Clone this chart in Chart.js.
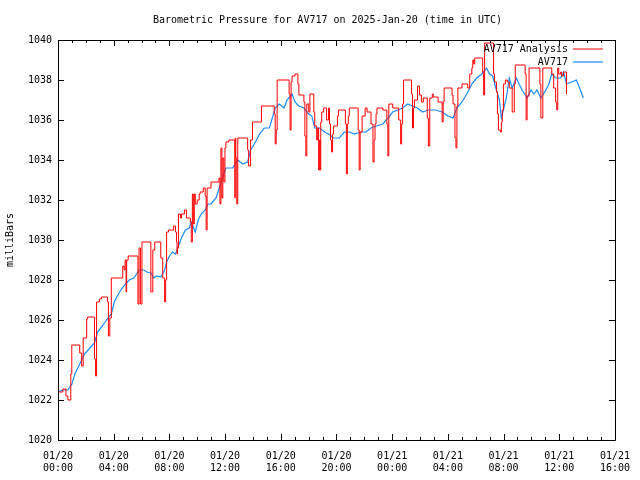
<!DOCTYPE html>
<html>
<head>
<meta charset="utf-8">
<script src="https://cdn.jsdelivr.net/npm/chart.js@4"></script>
<style>
  html, body { margin: 0; padding: 0; background: #fff; }
  canvas { display: block; }
</style>
</head>
<body>
<canvas id="chart" width="640" height="480"></canvas>
<script>
var chartTitle = 'Barometric Pressure for AV717 on 2025-Jan-20 (time in UTC)';

// hours since 2025-01-20 00:00 UTC
var analysisHours = [0, 0.35, 0.57, 0.71, 0.92, 0.99, 1.56, 1.70, 1.81, 2.06, 2.13, 2.62, 2.70, 2.77, 2.98, 3.12,
  3.55, 3.62, 3.72, 3.83, 4.65, 4.75, 4.82, 4.89, 4.93, 5.04, 5.74, 5.82, 5.92, 6.03, 6.67, 6.81, 6.95,
  7.38, 7.52, 7.66, 7.73, 7.80, 7.94, 8.30, 8.44, 8.51, 8.55, 8.58, 8.65, 8.79, 8.87, 9.08, 9.22, 9.50,
  9.57, 9.65, 9.72, 9.79, 9.86, 10.0, 10.14, 10.21, 10.43, 10.57, 10.64, 10.71, 10.99, 11.56, 11.63,
  11.70, 11.77, 11.84, 11.91, 11.99, 12.06, 12.27, 12.70, 12.73, 12.77, 12.84, 12.91, 13.62, 13.69,
  13.83, 13.97, 14.61, 15.53, 15.60, 15.67, 15.74, 16.60, 16.67, 16.74, 16.81, 17.02, 17.23, 17.30,
  17.66, 17.73, 17.80, 17.87, 18.01, 18.09, 18.37, 18.44, 18.58, 18.65, 18.72, 18.79, 18.83, 18.87,
  18.94, 19.08, 19.29, 19.43, 19.50, 19.57, 19.65, 19.72, 19.79, 20.07, 20.14, 20.64, 20.71, 20.78,
  20.85, 20.92, 21.56, 21.63, 21.70, 21.84, 22.06, 22.20, 22.48, 22.62, 22.70, 22.77, 22.84, 22.91,
  23.33, 23.62, 23.69, 23.76, 24.04, 24.47, 24.61, 24.68, 24.75, 24.82, 25.39, 25.46, 25.53, 25.60,
  25.82, 25.96, 26.10, 26.24, 26.52, 26.60, 26.70, 26.88, 26.95, 27.30, 27.59, 27.66, 27.73, 28.30,
  28.37, 28.51, 28.58, 28.65, 28.72, 29.01, 29.43, 29.57, 29.72, 29.79, 29.86, 29.93, 30.50, 30.57,
  30.64, 31.28, 31.35, 31.49, 31.56, 31.63, 31.77, 31.84, 31.91, 31.99, 32.13, 32.27, 32.41, 32.62,
  32.77, 32.84, 33.55, 33.62, 33.69, 33.83, 34.61, 34.68, 34.82, 35.46, 35.60, 35.74, 35.82, 35.89,
  35.96, 36.10, 36.17, 36.31, 36.52];
var analysisMb = [1022.4, 1022.55, 1022.2, 1022.0, 1023.3, 1024.75, 1024.35, 1023.7, 1025.1, 1026.05, 1026.15, 1024.05, 1023.2, 1026.9, 1027.05, 1027.15,
  1026.9, 1025.2, 1026.1, 1028.1, 1028.7, 1028.5, 1029.0, 1027.4, 1029.0, 1029.2, 1026.8, 1029.6, 1026.8, 1029.9, 1027.4, 1029.5, 1029.9,
  1029.1, 1028.1, 1026.9, 1028.0, 1030.4, 1030.5, 1030.7, 1030.4, 1029.9, 1029.3, 1029.6, 1031.3, 1031.1, 1031.3, 1031.5, 1031.1, 1030.9,
  1029.9, 1032.3, 1030.8, 1032.3, 1031.8, 1032.0, 1032.3, 1032.4, 1032.6, 1032.2, 1030.5, 1032.6, 1032.9, 1033.1, 1031.8,
  1034.6, 1032.1, 1034.1, 1032.9, 1034.6, 1034.9, 1035.0, 1032.1, 1035.1, 1034.1, 1031.8, 1035.1, 1034.5, 1033.7,
  1035.0, 1035.9, 1036.7, 1036.3, 1034.8, 1035.5, 1038.0, 1037.3, 1035.5, 1037.9, 1038.2, 1038.3, 1037.8, 1037.25,
  1036.9, 1035.2, 1034.2, 1036.8, 1036.4, 1037.3, 1036.4, 1035.7, 1035.0, 1035.6, 1033.5, 1035.0, 1033.5, 1035.9,
  1036.4, 1036.6, 1036.0, 1036.6, 1035.8, 1035.0, 1034.4, 1035.3, 1035.7, 1036.2, 1036.5, 1035.8, 1033.3, 1035.8,
  1036.2, 1036.6, 1035.5, 1033.5, 1035.4, 1036.2, 1036.6, 1036.4, 1035.8, 1033.9, 1035.0, 1035.8, 1036.3, 1036.6,
  1036.5, 1035.8, 1034.2, 1036.8, 1036.6, 1036.0, 1034.8, 1035.8, 1036.8, 1038.0, 1037.3, 1035.6, 1036.6, 1037.0,
  1037.7, 1037.25, 1036.9, 1037.1, 1036.1, 1034.7, 1037.1, 1037.3, 1037.15, 1036.9, 1035.9, 1036.9, 1037.6, 1037.25,
  1036.8, 1035.1, 1034.6, 1036.7, 1037.6, 1037.8, 1037.6, 1038.3, 1038.6, 1039.0, 1038.8, 1039.1, 1038.4, 1037.25,
  1039.85, 1038.3, 1037.9, 1037.4, 1036.3, 1035.5, 1035.4, 1035.9, 1036.5, 1037.8, 1038.0, 1037.9, 1037.6, 1036.4,
  1037.8, 1038.75, 1038.3, 1036.0, 1037.2, 1038.6, 1037.8, 1036.1, 1038.6, 1038.3, 1037.6, 1036.9, 1036.5, 1038.6,
  1038.3, 1038.4, 1038.2, 1038.4, 1037.3];

var stationHours = [0, 0.35, 0.71, 1.0, 1.21, 1.56, 1.91, 2.41, 2.62, 2.84, 3.19, 3.48, 3.83, 4.04, 4.26, 4.61,
  5.11, 5.46, 5.82, 6.17, 6.38, 6.67, 6.88, 7.09, 7.38, 7.66, 7.8, 8.01, 8.23, 8.44, 8.65, 8.87, 9.15,
  9.43, 9.57, 9.86, 10.07, 10.28, 10.57, 10.78, 10.99, 11.35, 11.63, 11.84, 12.06, 12.55, 12.91, 13.26,
  13.62, 13.83, 14.18, 14.47, 14.82, 15.18, 15.39, 15.6, 15.89, 16.24, 16.45, 16.81, 17.02, 17.3, 17.66,
  18.01, 18.23, 18.44, 18.79, 19.15, 19.43, 19.79, 20.21, 20.57, 20.92, 21.28, 21.77, 22.13, 22.48,
  22.84, 23.33, 23.69, 24.04, 24.4, 24.75, 25.11, 25.46, 25.82, 26.17, 26.6, 27.09, 27.59, 28.01, 28.37,
  28.65, 29.01, 29.36, 29.72, 30.07, 30.43, 30.78, 30.99, 31.21, 31.49, 31.7, 31.84, 31.99, 32.2, 32.41,
  32.62, 32.91, 33.12, 33.33, 33.69, 33.97, 34.18, 34.4, 34.68, 35.04, 35.25, 35.46, 35.74, 36.1, 36.31,
  36.52, 36.88, 37.23, 37.52, 37.73];
var stationMb = [1022.4, 1022.5, 1022.5, 1022.8, 1023.3, 1023.8, 1024.3, 1024.7, 1024.85, 1025.4, 1025.7, 1026.0, 1026.3, 1026.9, 1027.2, 1027.6,
  1028.0, 1028.1, 1028.5, 1028.5, 1028.4, 1028.35, 1028.1, 1028.2, 1028.15, 1028.5, 1028.9, 1029.2, 1029.4, 1029.3, 1029.7, 1030.1, 1030.5,
  1030.6, 1030.9, 1030.4, 1031.0, 1031.3, 1031.5, 1031.8, 1031.8, 1032.1, 1032.7, 1033.2, 1033.6, 1033.6, 1034.0, 1033.8,
  1033.9, 1034.5, 1034.9, 1035.3, 1035.6, 1035.6, 1036.1, 1036.6, 1036.8, 1036.6, 1037.0, 1037.3, 1036.9, 1036.7, 1036.6,
  1036.3, 1036.2, 1035.6, 1035.6, 1035.4, 1035.3, 1035.1, 1035.1, 1035.4, 1035.4, 1035.3, 1035.4, 1035.4, 1035.6,
  1035.7, 1035.8, 1036.1, 1036.4, 1036.5, 1036.6, 1036.8, 1036.7, 1036.6, 1036.4, 1036.5, 1036.5, 1036.4, 1036.2, 1036.1,
  1036.6, 1036.9, 1037.3, 1037.8, 1038.1, 1038.3, 1038.6, 1038.3, 1038.2, 1037.5, 1037.0, 1036.1, 1036.5, 1037.1, 1038.1,
  1037.6, 1038.1, 1037.8, 1037.5, 1037.1, 1037.5, 1037.3, 1037.5, 1037.1, 1037.5, 1037.8, 1038.3, 1038.1, 1038.1, 1038.4,
  1037.8, 1037.9, 1038.0, 1037.5, 1037.1];

var xTickLabels = [['01/20', '00:00'], ['01/20', '04:00'], ['01/20', '08:00'], ['01/20', '12:00'],
  ['01/20', '16:00'], ['01/20', '20:00'], ['01/21', '00:00'], ['01/21', '04:00'],
  ['01/21', '08:00'], ['01/21', '12:00'], ['01/21', '16:00']];

function pairs(xs, ys) {
  return xs.map(function (x, i) { return { x: x, y: ys[i] }; });
}

var monoFont = "'DejaVu Sans Mono', 'Liberation Mono', monospace";
Chart.defaults.font.family = monoFont;
Chart.defaults.font.size = 10;
Chart.defaults.color = '#000';

// gnuplot-like frame with inward ticks on all four sides, plus title and key
var frameAndKey = {
  id: 'frameAndKey',
  afterDatasetsDraw: function (chart) {
    var ctx = chart.ctx, a = chart.chartArea, xs = chart.scales.x, ys = chart.scales.y;
    ctx.save();
    ctx.strokeStyle = '#000';
    ctx.lineWidth = 1;
    ctx.beginPath();
    ctx.rect(Math.round(a.left) + 0.5, Math.round(a.top) + 0.5,
      Math.round(a.right) - Math.round(a.left), Math.round(a.bottom) - Math.round(a.top));
    for (var h = xs.min; h <= xs.max; h++) {
      var px = Math.round(xs.getPixelForValue(h)) + 0.5;
      var len = (h % 4 === 0) ? 6 : 3;
      ctx.moveTo(px, a.bottom); ctx.lineTo(px, a.bottom - len);
      ctx.moveTo(px, a.top); ctx.lineTo(px, a.top + len);
    }
    ys.ticks.forEach(function (t) {
      var py = Math.round(ys.getPixelForValue(t.value)) + 0.5;
      ctx.moveTo(a.left, py); ctx.lineTo(a.left + 6, py);
      ctx.moveTo(a.right, py); ctx.lineTo(a.right - 6, py);
    });
    ctx.stroke();

    ctx.font = '10px ' + monoFont;
    ctx.fillStyle = '#000';
    ctx.textAlign = 'center';
    ctx.textBaseline = 'middle';
    ctx.fillText(chartTitle, (a.left + a.right) / 2 - 9, 20);

    ctx.textAlign = 'right';
    chart.data.datasets.forEach(function (ds, i) {
      var yy = a.top + 9 + i * 13;
      ctx.fillStyle = '#000';
      ctx.fillText(ds.label, a.right - 47, yy);
      ctx.strokeStyle = ds.borderColor;
      ctx.lineWidth = ds.borderWidth;
      ctx.beginPath();
      ctx.moveTo(a.right - 42, yy);
      ctx.lineTo(a.right - 12, yy);
      ctx.stroke();
    });
    ctx.restore();
  }
};

new Chart(document.getElementById('chart'), {
  type: 'line',
  data: {
    datasets: [{
      label: 'AV717 Analysis',
      data: pairs(analysisHours, analysisMb),
      borderColor: '#ff0000',
      borderWidth: 1,
      stepped: 'before',
      pointRadius: 0
    }, {
      label: 'AV717',
      data: pairs(stationHours, stationMb),
      borderColor: '#1a8cff',
      borderWidth: 1.2,
      pointRadius: 0
    }]
  },
  options: {
    responsive: false,
    animation: false,
    devicePixelRatio: 1,
    layout: { padding: { top: 40, right: 18 } },
    plugins: {
      legend: { display: false },
      tooltip: { enabled: false },
      title: { display: false }
    },
    scales: {
      x: {
        type: 'linear',
        min: 0,
        max: 40,
        grid: { display: false, drawTicks: false },
        border: { display: false },
        ticks: {
          stepSize: 4,
          autoSkip: false,
          maxRotation: 0,
          padding: 10,
          callback: function (v, i) { return xTickLabels[i]; }
        },
        afterFit: function (s) { s.height = 40; }
      },
      y: {
        min: 1020,
        max: 1040,
        grid: { display: false, drawTicks: false },
        border: { display: false },
        ticks: {
          stepSize: 2,
          padding: 6,
          callback: function (v) { return String(v); }
        },
        title: { display: true, text: 'milliBars', padding: { top: 4, bottom: 0 } },
        afterFit: function (s) { s.width = 58; }
      }
    }
  },
  plugins: [frameAndKey]
});
</script>
</body>
</html>
